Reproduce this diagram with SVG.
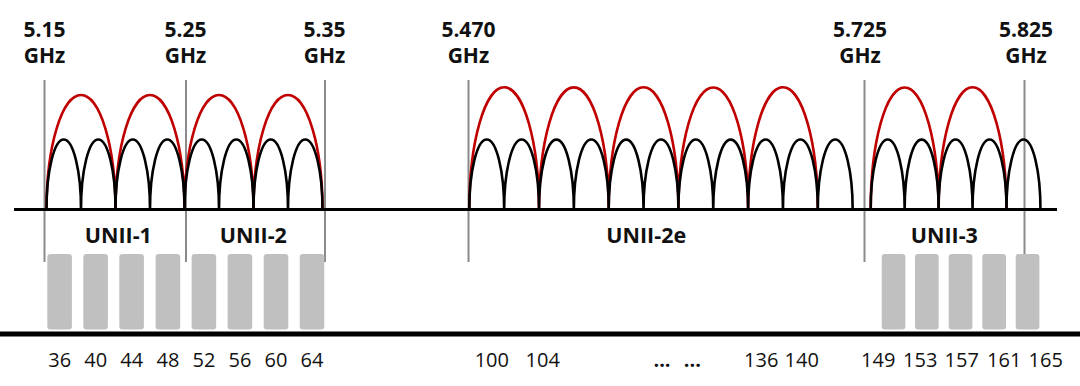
<svg xmlns="http://www.w3.org/2000/svg" width="1080" height="386" viewBox="0 0 1080 386">
<style>
.freq{font-family:"Open Sans","Liberation Sans",sans-serif;font-weight:700;font-size:21px;fill:#111;text-anchor:middle}
.band{font-family:"Open Sans","Liberation Sans",sans-serif;font-weight:700;font-size:21.5px;fill:#111;text-anchor:middle}
.ch{font-family:"Open Sans","Liberation Sans",sans-serif;font-size:20px;fill:#111;text-anchor:middle}
.dots{font-family:"Open Sans","Liberation Sans",sans-serif;font-weight:700;font-size:20px;fill:#111;text-anchor:middle}
.div{stroke:#8a8a8a;stroke-width:2;fill:none}
.red{stroke:#c00000;stroke-width:2.6;fill:none}
.blk{stroke:#000;stroke-width:2.6;fill:none}
.box{fill:#c0c0c0}
</style>
<rect width="1080" height="386" fill="#fff"/>
<g id="dividers">
<line class="div" x1="44.5" y1="80" x2="44.5" y2="262"/>
<line class="div" x1="186" y1="80" x2="186" y2="262"/>
<line class="div" x1="325" y1="80" x2="325" y2="262"/>
<line class="div" x1="468.5" y1="80" x2="468.5" y2="262"/>
<line class="div" x1="864.5" y1="80" x2="864.5" y2="262"/>
<line class="div" x1="1024.5" y1="80" x2="1024.5" y2="256"/>
</g>
<g id="red-channels">
<path class="red" d="M46.5,209.5 A34.5,114.5 0 0 1 115.5,209.5 A34.5,114.5 0 0 1 184.5,209.5 A34.5,114.5 0 0 1 253.5,209.5 A34.5,114.5 0 0 1 322.5,209.5"/>
<path class="red" d="M469.3,209.5 A34.85,122.2 0 0 1 539,209.5 A34.85,122.2 0 0 1 608.7,209.5 A34.85,122.2 0 0 1 678.4,209.5 A34.85,122.2 0 0 1 748.1,209.5 A34.85,122.2 0 0 1 817.8,209.5"/>
<path class="red" d="M870.7,209.5 A33.95,122.2 0 0 1 938.6,209.5 A33.95,122.2 0 0 1 1006.5,209.5"/>
</g>
<g id="black-channels">
<path class="blk" d="M46.5,209.5 A17.25,70 0 0 1 81,209.5 A17.25,70 0 0 1 115.5,209.5 A17.25,70 0 0 1 150,209.5 A17.25,70 0 0 1 184.5,209.5 A17.25,70 0 0 1 219,209.5 A17.25,70 0 0 1 253.5,209.5 A17.25,70 0 0 1 288,209.5 A17.25,70 0 0 1 322.5,209.5"/>
<path class="blk" d="M469.3,209.5 A17.425,70 0 0 1 504.15,209.5 A17.425,70 0 0 1 539,209.5 A17.425,70 0 0 1 573.85,209.5 A17.425,70 0 0 1 608.7,209.5 A17.425,70 0 0 1 643.55,209.5 A17.425,70 0 0 1 678.4,209.5 A17.425,70 0 0 1 713.25,209.5 A17.425,70 0 0 1 748.1,209.5 A17.425,70 0 0 1 782.95,209.5 A17.425,70 0 0 1 817.8,209.5 A17.425,70 0 0 1 852.65,209.5"/>
<path class="blk" d="M870.7,209.5 A16.975,70 0 0 1 904.65,209.5 A16.975,70 0 0 1 938.6,209.5 A16.975,70 0 0 1 972.55,209.5 A16.975,70 0 0 1 1006.5,209.5 A16.975,70 0 0 1 1040.45,209.5"/>
</g>
<g id="axes">
<line x1="14" y1="209.5" x2="1057" y2="209.5" stroke="#000" stroke-width="3.2"/>
<line x1="0" y1="334" x2="1080" y2="334" stroke="#000" stroke-width="5"/>
</g>
<g id="freq-labels">
<text class="freq" x="44.5" y="37.3">5.15</text><text class="freq" x="44.5" y="62.5">GHz</text>
<text class="freq" x="185.5" y="37.3">5.25</text><text class="freq" x="185.5" y="62.5">GHz</text>
<text class="freq" x="324.5" y="37.3">5.35</text><text class="freq" x="324.5" y="62.5">GHz</text>
<text class="freq" x="468.4" y="37.3">5.470</text><text class="freq" x="468.4" y="62.5">GHz</text>
<text class="freq" x="860" y="37.3">5.725</text><text class="freq" x="860" y="62.5">GHz</text>
<text class="freq" x="1026" y="37.3">5.825</text><text class="freq" x="1026" y="62.5">GHz</text>
</g>
<g id="band-labels">
<text class="band" x="118.3" y="242.5">UNII-1</text>
<text class="band" x="253.3" y="242.5">UNII-2</text>
<text class="band" x="646.2" y="242.5">UNII-2e</text>
<text class="band" x="944.3" y="242.5">UNII-3</text>
</g>
<g id="channel-boxes">
<rect class="box" x="47.3" y="254" width="24.6" height="75.5" rx="3"/>
<rect class="box" x="83.3" y="254" width="24.6" height="75.5" rx="3"/>
<rect class="box" x="119.3" y="254" width="24.6" height="75.5" rx="3"/>
<rect class="box" x="155.6" y="254" width="24.6" height="75.5" rx="3"/>
<rect class="box" x="191.6" y="254" width="24.6" height="75.5" rx="3"/>
<rect class="box" x="227.6" y="254" width="24.6" height="75.5" rx="3"/>
<rect class="box" x="263.7" y="254" width="24.6" height="75.5" rx="3"/>
<rect class="box" x="299.7" y="254" width="24.6" height="75.5" rx="3"/>
<rect class="box" x="881.7" y="254" width="23.7" height="75.5" rx="3"/>
<rect class="box" x="915" y="254" width="23.7" height="75.5" rx="3"/>
<rect class="box" x="948.7" y="254" width="23.7" height="75.5" rx="3"/>
<rect class="box" x="982.3" y="254" width="23.7" height="75.5" rx="3"/>
<rect class="box" x="1015.7" y="254" width="23.7" height="75.5" rx="3"/>
</g>
<g id="channel-numbers">
<text class="ch" x="59.7" y="366.5">36</text>
<text class="ch" x="95.7" y="366.5">40</text>
<text class="ch" x="131.7" y="366.5">44</text>
<text class="ch" x="167.9" y="366.5">48</text>
<text class="ch" x="203.9" y="366.5">52</text>
<text class="ch" x="239.9" y="366.5">56</text>
<text class="ch" x="276" y="366.5">60</text>
<text class="ch" x="312" y="366.5">64</text>
<text class="ch" x="491.8" y="366.5">100</text>
<text class="ch" x="542.7" y="366.5">104</text>
<text class="dots" x="662" y="367">...</text>
<text class="dots" x="692.3" y="367">...</text>
<text class="ch" x="761.2" y="366.5">136</text>
<text class="ch" x="801.7" y="366.5">140</text>
<text class="ch" x="878.2" y="366.5">149</text>
<text class="ch" x="920.2" y="366.5">153</text>
<text class="ch" x="961.7" y="366.5">157</text>
<text class="ch" x="1004.2" y="366.5">161</text>
<text class="ch" x="1045.7" y="366.5">165</text>
</g>
</svg>
